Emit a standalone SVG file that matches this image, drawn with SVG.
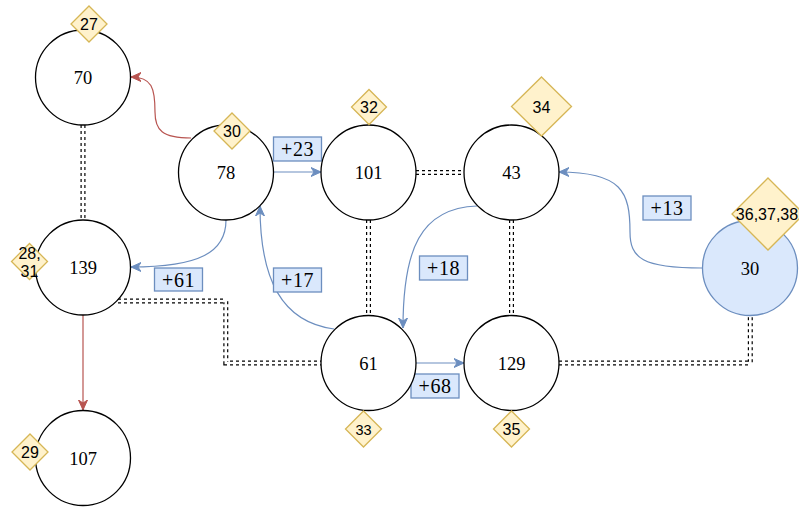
<svg xmlns="http://www.w3.org/2000/svg" width="799" height="507" viewBox="0 0 799 507">
<style>
.n{fill:#fff;stroke:#000;stroke-width:1.3}
.nb{fill:#dae8fc;stroke:#6c8ebf;stroke-width:1.3}
.d{fill:#fff2cc;stroke:#d6b656;stroke-width:1.3}
.t{font-family:"Liberation Serif","DejaVu Serif",serif;font-size:18.5px;text-anchor:middle;fill:#000}
.tl{font-family:"Liberation Serif","DejaVu Serif",serif;font-size:20px;text-anchor:middle;fill:#000;letter-spacing:0.5px}
.s{font-family:"Liberation Sans",Arial,sans-serif;font-size:16px;text-anchor:middle;fill:#000}
.lb{fill:#dae8fc;stroke:#6c8ebf;stroke-width:1.3}
.eb{fill:none;stroke:#6c8ebf;stroke-width:1.2}
.er{fill:none;stroke:#b85450;stroke-width:1.2}
.dk{fill:none;stroke:#000;stroke-width:5;stroke-dasharray:3 3}
.dw{fill:none;stroke:#fff;stroke-width:2.6}
</style>
<defs>
<marker id="ab" viewBox="0 0 10 10" refX="10" refY="5" markerWidth="10" markerHeight="10" markerUnits="userSpaceOnUse" orient="auto"><path d="M0,0.5 L10,5 L0,9.5 L3,5 Z" fill="#6c8ebf" stroke="#6c8ebf"/></marker>
<marker id="ar" viewBox="0 0 10 10" refX="10" refY="5" markerWidth="10" markerHeight="10" markerUnits="userSpaceOnUse" orient="auto"><path d="M0,0.5 L10,5 L0,9.5 L3,5 Z" fill="#b85450" stroke="#b85450"/></marker>
</defs>
<g id="connectors">
<g id="links">
<path class="dk" d="M83,125 V220"/><path class="dw" d="M83,125 V220"/>
<path class="dk" d="M416,172.5 H463"/><path class="dw" d="M416,172.5 H463"/>
<path class="dk" d="M368.5,220 V315"/><path class="dw" d="M368.5,220 V315"/>
<path class="dk" d="M511.5,220 V315"/><path class="dw" d="M511.5,220 V315"/>
<path class="dk" d="M118,301 H225.8 V363 H321"/><path class="dw" d="M118,301 H225.8 V363 H321"/>
<path class="dk" d="M559,363 H750.3 V316"/><path class="dw" d="M559,363 H750.3 V316"/>
</g>
<path class="er" d="M191,138 C162,138 155,130 155,112 C155,88 152,77 131,77" marker-end="url(#ar)"/>
<path class="er" d="M83,315 V410" marker-end="url(#ar)"/>
<path class="eb" d="M274,172 H321" marker-end="url(#ab)"/>
<path class="eb" d="M226,220 C226,252 200,267 131,267" marker-end="url(#ab)"/>
<path class="eb" d="M334,329 C282,322 260,280 260,206" marker-end="url(#ab)"/>
<path class="eb" d="M477,206 C420,208 403,250 403,328" marker-end="url(#ab)"/>
<path class="eb" d="M416,363 H464" marker-end="url(#ab)"/>
<path class="eb" d="M702,268 C642,268 630,258 630,232 C630,192 622,172 559,172" marker-end="url(#ab)"/>
<g id="labels">
<rect class="lb" x="273.5" y="137" width="48" height="24"/><text class="tl" x="297.5" y="156">+23</text>
<rect class="lb" x="154.5" y="268" width="48" height="23"/><text class="tl" x="178.5" y="286.5">+61</text>
<rect class="lb" x="273.5" y="268" width="48" height="24"/><text class="tl" x="297.5" y="287">+17</text>
<rect class="lb" x="419.5" y="256" width="48" height="24"/><text class="tl" x="443.5" y="275">+18</text>
<rect class="lb" x="411" y="374" width="48" height="24"/><text class="tl" x="435" y="393">+68</text>
<rect class="lb" x="643" y="196" width="48" height="24"/><text class="tl" x="667" y="215">+13</text>
</g>
</g>
<g id="n70"><circle class="n" cx="83" cy="77.5" r="47.5"/><text class="t" x="83" y="84">70</text></g>
<g id="n78"><circle class="n" cx="226" cy="172.5" r="47.5"/><text class="t" x="226" y="179">78</text></g>
<g id="n101"><circle class="n" cx="368.5" cy="172.5" r="47.5"/><text class="t" x="368.5" y="179">101</text></g>
<g id="n43"><circle class="n" cx="511.5" cy="172.5" r="47.5"/><text class="t" x="511.5" y="179">43</text></g>
<g id="n139"><circle class="n" cx="83" cy="267.5" r="47.5"/><text class="t" x="83" y="274">139</text></g>
<g id="n107"><circle class="n" cx="83" cy="458" r="47.5"/><text class="t" x="83" y="464.5">107</text></g>
<g id="n61"><circle class="n" cx="368.5" cy="363" r="47.5"/><text class="t" x="368.5" y="369.5">61</text></g>
<g id="n129"><circle class="n" cx="511.5" cy="363" r="47.5"/><text class="t" x="511.5" y="369.5">129</text></g>
<g id="n30b"><circle class="nb" cx="750" cy="268" r="47.5"/><text class="t" x="750" y="274.5">30</text></g>
<g id="d27"><path class="d" d="M89,6 L107,24 L89,42 L71,24 Z"/><text class="s" x="89" y="30">27</text></g>
<g id="d30"><path class="d" d="M232,113 L250,131 L232,149 L214,131 Z"/><text class="s" x="232" y="137">30</text></g>
<g id="d32"><path class="d" d="M369,89.5 L386.5,107 L369,124.5 L351.5,107 Z"/><text class="s" x="369" y="113">32</text></g>
<g id="d34"><path class="d" d="M541.5,77 L571.5,106.5 L541.5,136 L511.5,106.5 Z"/><text class="s" x="541.5" y="112.5">34</text></g>
<g id="d36"><path class="d" d="M768,178 L804,214 L768,250 L732,214 Z"/><text class="s" x="767" y="220">36,37,38</text></g>
<g id="d28"><path class="d" d="M29.5,243.5 L47.5,261.5 L29.5,279.5 L11.5,261.5 Z"/><text class="s" x="29.5" y="258.5">28,</text><text class="s" x="29.5" y="277">31</text></g>
<g id="d29"><path class="d" d="M30,434 L48,452 L30,470 L12,452 Z"/><text class="s" x="30" y="458">29</text></g>
<g id="d33"><path class="d" d="M363.5,411 L381.5,429 L363.5,447 L345.5,429 Z"/><text class="s" x="363.5" y="434.5" style="font-size:14.5px">33</text></g>
<g id="d35"><path class="d" d="M511.5,411 L529.5,429 L511.5,447 L493.5,429 Z"/><text class="s" x="511.5" y="435">35</text></g>
</svg>
